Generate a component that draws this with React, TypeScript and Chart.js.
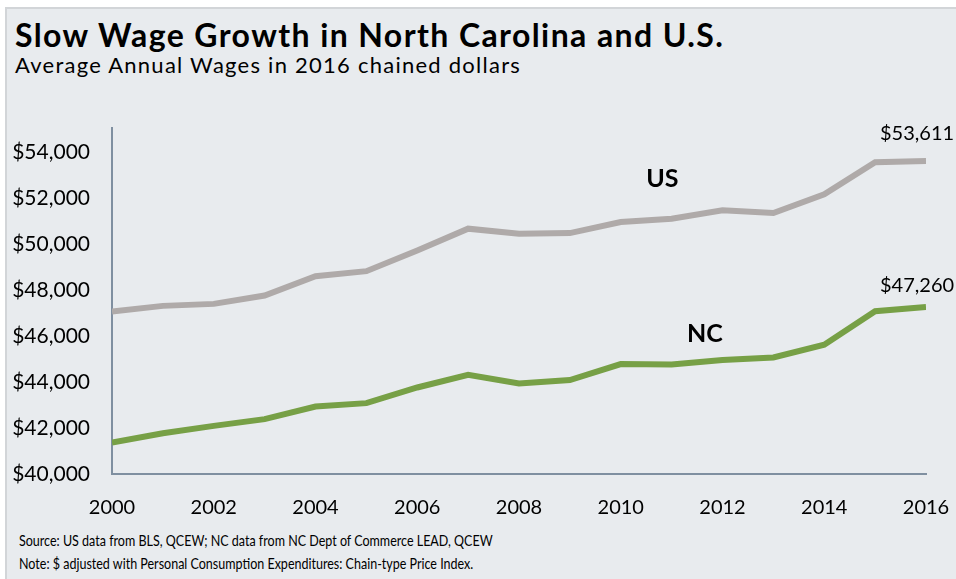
import React, { useEffect, useRef } from "react";
import { Chart, registerables } from "chart.js";

Chart.register(...registerables);

const years = [2000, 2001, 2002, 2003, 2004, 2005, 2006, 2007, 2008, 2009, 2010, 2011, 2012, 2013, 2014, 2015, 2016];
const usWages = [47065, 47313, 47400, 47763, 48604, 48822, 49725, 50671, 50453, 50480, 50960, 51107, 51470, 51352, 52167, 53563, 53611];
const ncWages = [41365, 41775, 42093, 42385, 42935, 43083, 43764, 44317, 43938, 44086, 44784, 44767, 44958, 45072, 45626, 47078, 47260];
const yTickValues = [40000, 42000, 44000, 46000, 48000, 50000, 52000, 54000];
const xTickValues = [2000, 2002, 2004, 2006, 2008, 2010, 2012, 2014, 2016];
const seriesNames = ["US", "NC"];
const endLabels = ["$53,611", "$47,260"];

const FONT = "Lato, 'Open Sans', sans-serif";
const BG = "#e8ebee";
const US_COLOR = "#afaaa9";
const NC_COLOR = "#77a046";
const AXIS_COLOR = "#7f8fa0";

const labelPlugin = {
  id: "seriesLabels",
  afterDatasetsDraw(chart: any) {
    const ctx = chart.ctx;
    const xs = chart.scales.x;
    const ys = chart.scales.y;
    ctx.save();
    ctx.fillStyle = "#000";
    ctx.textBaseline = "alphabetic";
    ctx.textAlign = "left";
    ctx.font = `bold 25px ${FONT}`;
    ctx.fillText(seriesNames[0], xs.getPixelForValue(2010.5), ys.getPixelForValue(52490));
    ctx.fillText(seriesNames[1], xs.getPixelForValue(2011.3), ys.getPixelForValue(45726));
    ctx.font = `20px ${FONT}`;
    const metas = [chart.getDatasetMeta(0), chart.getDatasetMeta(1)];
    const dy = [21, 15];
    metas.forEach((m: any, i: number) => {
      const pt = m.data[m.data.length - 1];
      ctx.fillText(endLabels[i], pt.x - 46, pt.y - dy[i]);
    });
    ctx.restore();
  },
};

export default function App() {
  const canvasRef = useRef<HTMLCanvasElement>(null);

  useEffect(() => {
    document.body.style.margin = "0";
    const canvas = canvasRef.current!;
    const chart = new Chart(canvas, {
      type: "line",
      data: {
        datasets: [
          {
            label: "US",
            data: years.map((y, i) => ({ x: y, y: usWages[i] })),
            borderColor: US_COLOR,
            backgroundColor: US_COLOR,
            borderWidth: 6,
            pointRadius: 0,
            tension: 0,
          },
          {
            label: "NC",
            data: years.map((y, i) => ({ x: y, y: ncWages[i] })),
            borderColor: NC_COLOR,
            backgroundColor: NC_COLOR,
            borderWidth: 6,
            pointRadius: 0,
            tension: 0,
          },
        ],
      },
      options: {
        animation: false,
        responsive: false,
        maintainAspectRatio: false,
        layout: { padding: { top: 128, right: 30, bottom: 60, left: 0 } },
        plugins: { legend: { display: false }, tooltip: { enabled: false } },
        scales: {
          x: {
            type: "linear",
            min: 2000,
            max: 2016,
            grid: { display: false, drawTicks: false },
            border: { display: true, color: AXIS_COLOR, width: 2 },
            afterBuildTicks: (s: any) => {
              s.ticks = xTickValues.map((v) => ({ value: v }));
            },
            ticks: {
              padding: 22,
              color: "#000",
              font: { family: FONT, size: 20 },
              callback: (v: any) => String(v),
            },
            afterFit: (s: any) => {
              s.height = 45;
              s.paddingLeft = 0;
              s.paddingRight = 0;
            },
          },
          y: {
            type: "linear",
            min: 40000,
            max: 55050,
            grid: { display: false, drawTicks: false },
            border: { display: true, color: AXIS_COLOR, width: 2 },
            afterBuildTicks: (s: any) => {
              s.ticks = yTickValues.map((v) => ({ value: v }));
            },
            ticks: {
              padding: 22,
              color: "#000",
              font: { family: FONT, size: 21 },
              callback: (v: any) => "$" + Number(v).toLocaleString("en-US"),
            },
            afterFit: (s: any) => {
              s.width = 112;
              s.paddingTop = 0;
              s.paddingBottom = 0;
            },
          },
        },
      },
      plugins: [labelPlugin],
    } as any);
    return () => chart.destroy();
  }, []);

  return (
    <div style={{ position: "fixed", left: 0, top: 0, width: 956, height: 579, background: "#fff", overflow: "hidden" }}>
      <div
        style={{
          position: "absolute",
          left: 5,
          top: 7,
          right: 0,
          bottom: 0,
          background: BG,
          borderLeft: "2px solid #d2d5d8",
          borderTop: "2px solid #d2d5d8",
        }}
      />
      <div style={{ position: "absolute", left: 15, top: 19, font: `bold 32px/1 ${FONT}`, letterSpacing: "1.4px", color: "#000", whiteSpace: "nowrap" }}>
        Slow Wage Growth in North Carolina and U.S.
      </div>
      <div style={{ position: "absolute", left: 15, top: 54, font: `22px/1 ${FONT}`, letterSpacing: "1.25px", color: "#000", whiteSpace: "nowrap" }}>
        Average Annual Wages in 2016 chained dollars
      </div>
      <div
        style={{
          position: "absolute",
          left: 19,
          top: 528,
          font: `16px/23px ${FONT}`,
          color: "#000",
          whiteSpace: "nowrap",
          transform: "scaleX(0.782)",
          transformOrigin: "left top",
        }}
      >
        <div>Source: US data from BLS, QCEW; NC data from NC Dept of Commerce LEAD, QCEW</div>
        <div>Note: $ adjusted with Personal Consumption Expenditures: Chain-type Price Index.</div>
      </div>
      <canvas
        ref={canvasRef}
        width={956}
        height={579}
        style={{ position: "absolute", left: 0, top: 0, width: 956, height: 579 }}
      />
    </div>
  );
}
